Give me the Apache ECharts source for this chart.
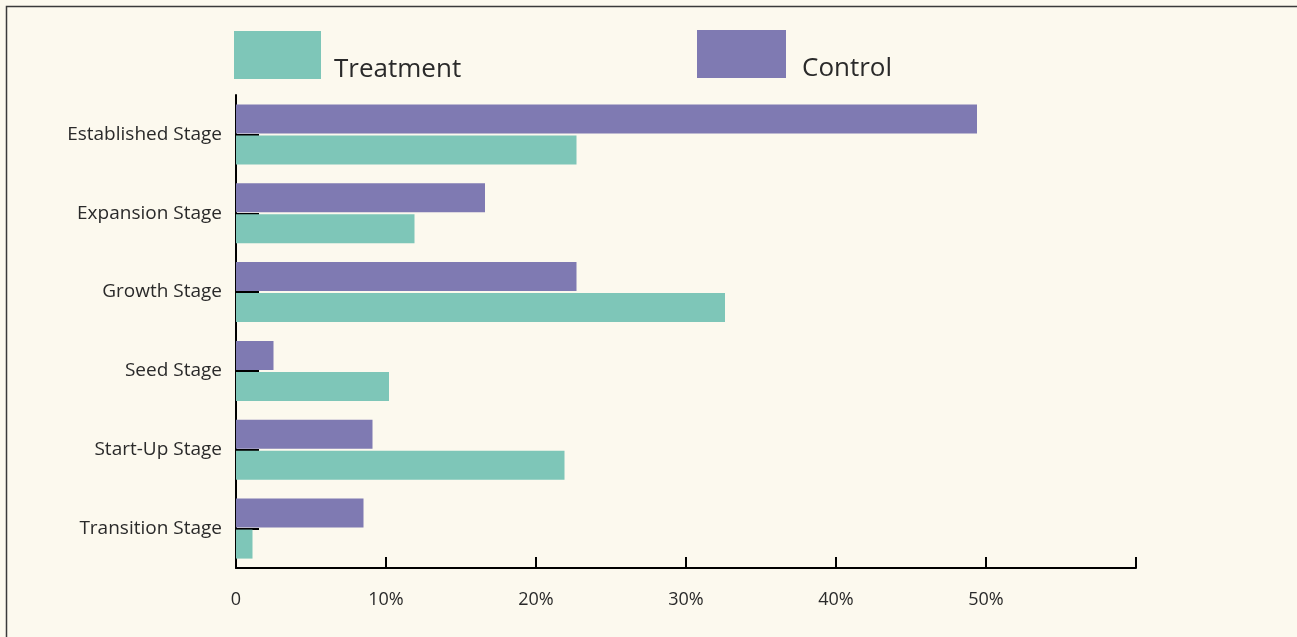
<!DOCTYPE html>
<html>
<head>
<meta charset="utf-8">
<title>Stage distribution: Treatment vs Control</title>
<script src="https://cdn.jsdelivr.net/npm/echarts@6/dist/echarts.min.js"></script>
<style>
  html, body { margin: 0; padding: 0; background: #fcf9ee; }
  #chart { width: 1297px; height: 637px; }
</style>
</head>
<body>
<div id="chart"></div>
<script>
// Business stages, listed top to bottom
const stages = [
  'Established Stage',
  'Expansion Stage',
  'Growth Stage',
  'Seed Stage',
  'Start-Up Stage',
  'Transition Stage'
];

// Share of each group in each stage (%)
const controlValues   = [49.4, 16.6, 22.7, 2.5, 9.1, 8.5];
const treatmentValues = [22.7, 11.9, 32.6, 10.2, 21.9, 1.1];

// Value axis ticks (%)
const xTicks = [0, 10, 20, 30, 40, 50, 60];

const FONT = '"Open Sans"';
const TEXT = '#2a2a2a';
const PURPLE = '#7f7ab2';
const TEAL = '#7ec6b8';

// Legend label sits low, next to the bottom of its swatch
const legendText = (gapLeft) => ({
  fontFamily: FONT, fontSize: 26, color: TEXT,
  rich: {
    n: { fontFamily: FONT, fontSize: 26, color: TEXT, padding: [30, 0, 0, gapLeft] }
  }
});

const chart = echarts.init(document.getElementById('chart'));

chart.setOption({
  backgroundColor: '#fcf9ee',
  animation: false,
  textStyle: { fontFamily: FONT, color: TEXT },
  graphic: [{
    type: 'rect',
    shape: { x: 6.5, y: 6.5, width: 1400, height: 700 },
    style: { fill: 'none', stroke: '#3a3a3a', lineWidth: 1.5 },
    silent: true
  }],
  legend: [
    {
      data: ['Treatment'],
      left: 234, top: 31, padding: 0,
      icon: 'rect', itemWidth: 87, itemHeight: 48,
      selectedMode: false,
      formatter: '{n|{name}}',
      textStyle: legendText(8)
    },
    {
      data: ['Control'],
      left: 697, top: 30, padding: 0,
      icon: 'rect', itemWidth: 89, itemHeight: 48,
      selectedMode: false,
      formatter: '{n|{name}}',
      textStyle: legendText(11)
    }
  ],
  grid: { left: 236, right: 161, top: 95, bottom: 69, containLabel: false },
  xAxis: {
    type: 'value',
    min: xTicks[0],
    max: xTicks[xTicks.length - 1],
    interval: xTicks[1] - xTicks[0],
    axisLine: { show: true, lineStyle: { color: '#000', width: 2 } },
    axisTick: { show: true, inside: true, length: 11, lineStyle: { color: '#000', width: 2 } },
    splitLine: { show: false },
    axisLabel: {
      margin: 23,
      fontFamily: FONT, fontSize: 18, color: TEXT,
      formatter: v => v === 0 ? '0' : (v === xTicks[xTicks.length - 1] ? '' : v + '%')
    }
  },
  yAxis: {
    type: 'category',
    data: stages,
    inverse: true,
    axisLine: { show: true, lineStyle: { color: '#000', width: 2 } },
    axisTick: { show: true, inside: true, alignWithLabel: true, length: 23, lineStyle: { color: '#000', width: 2 } },
    axisLabel: { margin: 14, fontFamily: FONT, fontSize: 19, color: TEXT }
  },
  series: [
    {
      name: 'Control',
      type: 'bar',
      data: controlValues,
      barWidth: 29,
      barGap: '7%',
      itemStyle: { color: PURPLE }
    },
    {
      name: 'Treatment',
      type: 'bar',
      data: treatmentValues,
      barWidth: 29,
      barGap: '7%',
      itemStyle: { color: TEAL }
    }
  ]
});
</script>
</body>
</html>
